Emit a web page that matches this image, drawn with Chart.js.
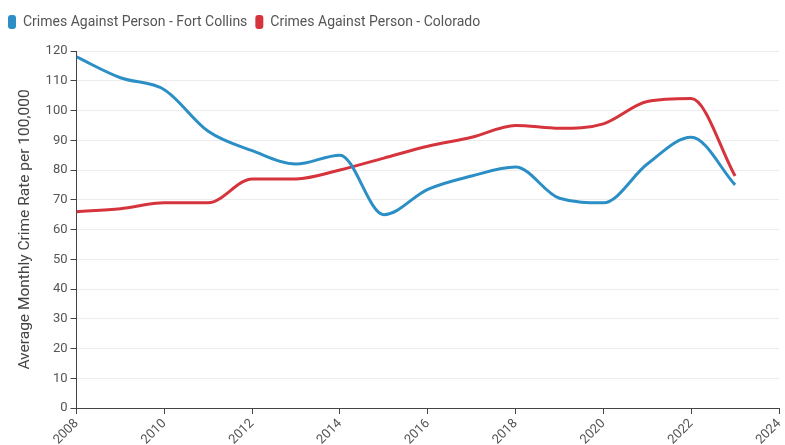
<!DOCTYPE html>
<html>
<head>
<meta charset="utf-8">
<script src="https://cdn.jsdelivr.net/npm/chart.js@4"></script>
<style>
  html, body { margin: 0; padding: 0; background: #fff; }
  #wrap { width: 785px; height: 445px; }
</style>
</head>
<body>
<div id="wrap"><canvas id="crimeChart"></canvas></div>
<script>
// datos
const years = [2008, 2009, 2010, 2011, 2012, 2013, 2014, 2015, 2016, 2017, 2018, 2019, 2020, 2021, 2022, 2023];
const fortCollins = [118, 111, 107, 93, 86.5, 82, 85, 65, 73.5, 78, 81, 70.5, 69, 82, 91, 75];
const colorado = [66, 67, 69, 69, 77, 77, 80, 84, 88, 91, 95, 94, 95.5, 103, 104, 78];
const seriesNames = ['Crimes Against Person - Fort Collins', 'Crimes Against Person - Colorado'];
const yTitle = 'Average Monthly Crime Rate per 100,000';

const blue = '#2b8fc6';
const red = '#d6343c';

function toPoints(values) {
  return years.map((y, i) => ({ x: y, y: values[i] }));
}

// espacio extra debajo de la leyenda
const legendGap = {
  id: 'legendGap',
  beforeInit(chart) {
    const origFit = chart.legend.fit;
    chart.legend.fit = function () {
      origFit.bind(chart.legend)();
      this.height += 12;
    };
  }
};

const ctx = document.getElementById('crimeChart').getContext('2d');
new Chart(ctx, {
  type: 'line',
  data: {
    datasets: [{
      label: seriesNames[0],
      data: toPoints(fortCollins),
      borderColor: blue,
      backgroundColor: blue,
      borderWidth: 3,
      fill: false,
      pointRadius: 0,
      cubicInterpolationMode: 'monotone'
    }, {
      label: seriesNames[1],
      data: toPoints(colorado),
      borderColor: red,
      backgroundColor: red,
      borderWidth: 3,
      fill: false,
      pointRadius: 0,
      cubicInterpolationMode: 'monotone'
    }]
  },
  plugins: [legendGap],
  options: {
    responsive: true,
    maintainAspectRatio: false,
    animation: false,
    layout: { padding: { left: 0, right: 6, top: 7, bottom: 0 } },
    plugins: {
      legend: {
        display: true,
        position: 'top',
        align: 'start',
        labels: {
          color: '#555',
          font: { family: 'Roboto', size: 14 },
          boxWidth: 8,
          boxHeight: 14,
          padding: 8,
          useBorderRadius: true,
          borderRadius: 3,
          generateLabels: (chart) => chart.data.datasets.map((ds, i) => ({
            text: ds.label,
            fillStyle: ds.borderColor,
            strokeStyle: ds.borderColor,
            lineWidth: 0,
            borderRadius: 3,
            fontColor: '#555',
            datasetIndex: i
          }))
        }
      },
      tooltip: { enabled: false }
    },
    scales: {
      x: {
        type: 'linear',
        min: 2008,
        max: 2024,
        border: { display: true, color: '#444', width: 1 },
        grid: { display: true, drawOnChartArea: false, drawTicks: true, tickLength: 6, tickColor: '#444' },
        ticks: {
          stepSize: 2,
          maxRotation: 45,
          minRotation: 45,
          color: '#555',
          font: { family: 'Roboto', size: 13 },
          padding: 2,
          callback: (v) => String(v)
        },
        afterFit: (scale) => {
          scale.height = 37;
          scale.paddingRight = 0;
        }
      },
      y: {
        min: 0,
        max: 120,
        border: { display: true, color: '#444', width: 1 },
        grid: { display: true, color: '#ececec', tickColor: '#444', tickLength: 6 },
        ticks: {
          stepSize: 10,
          color: '#555',
          font: { family: 'Roboto', size: 13 },
          padding: 3
        },
        title: {
          display: true,
          text: yTitle,
          color: '#444',
          font: { family: 'Roboto', size: 15.5 },
          padding: { top: 16, bottom: 8 }
        }
      }
    }
  }
});
</script>
</body>
</html>
